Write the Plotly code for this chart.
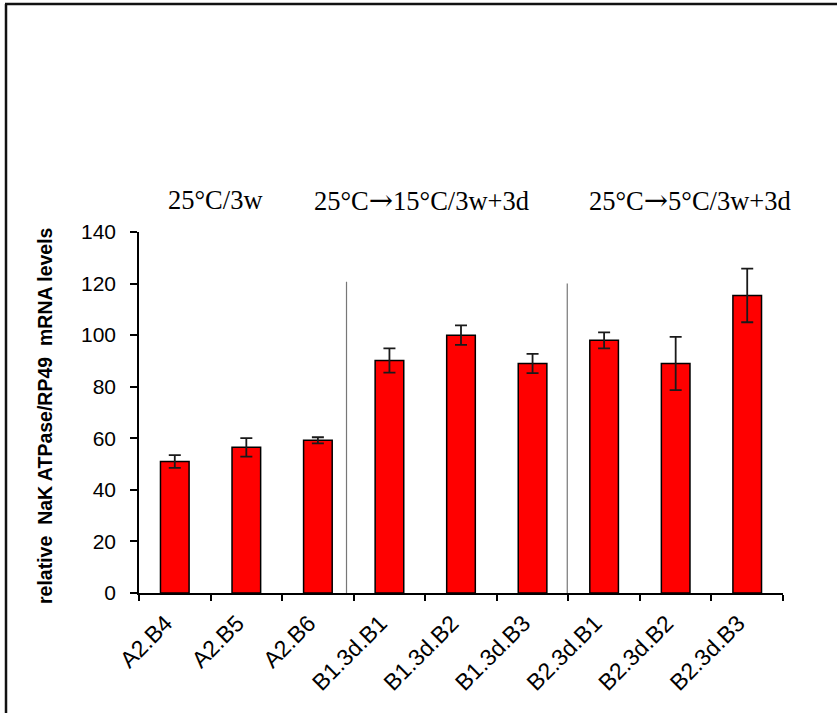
import plotly.graph_objects as go

# Samples and measured NaK ATPase / RP49 expression (mean, +/- error)
samples = ["A2.B4", "A2.B5", "A2.B6",
           "B1.3d.B1", "B1.3d.B2", "B1.3d.B3",
           "B2.3d.B1", "B2.3d.B2", "B2.3d.B3"]
levels = [51, 56.5, 59.2, 90.2, 100, 89, 98, 89, 115.4]
errors = [2.5, 3.6, 1.2, 4.7, 3.8, 3.7, 3.1, 10.3, 10.4]

ARROW = '<span style="font-family:DejaVu Serif;font-size:29px">\u2192</span>'
group_labels = ["25°C/3w",
                "25°C" + ARROW + "15°C/3w+3d",
                "25°C" + ARROW + "5°C/3w+3d"]
y_ticks = [0, 20, 40, 60, 80, 100, 120, 140]

W, H = 837, 715
L, R, T, B = 139, 54, 232, 122
PW, PH = W - L - R, H - T - B


def px_x(p):
    return (p - L) / PW


def px_y(p):
    return (H - B - p) / PH


fig = go.Figure()
fig.add_trace(go.Bar(
    x=samples, y=levels,
    width=0.4,
    marker=dict(color="#FF0000", line=dict(color="#000000", width=1.5)),
    error_y=dict(type="data", array=errors, symmetric=True,
                 color="#1a1a1a", thickness=1.8, width=6),
    showlegend=False,
))

# thin gray separators between the temperature groups
for xpos, ytop in [(2.40, 120.7), (5.485, 120.0)]:
    fig.add_shape(type="line", xref="x", yref="y",
                  x0=xpos, x1=xpos, y0=0, y1=ytop,
                  line=dict(color="#777777", width=1.2))

# group headers above the bars
for txt, xpos in zip(group_labels, [0.57, 3.45, 7.2]):
    fig.add_annotation(text=txt, xref="x", yref="paper", x=xpos, y=1.089,
                       showarrow=False, xanchor="center", yanchor="middle",
                       font=dict(family="Liberation Serif, Times New Roman, serif",
                                 size=26.5, color="#000000"))

# y-axis title
fig.add_annotation(text="relative\u00a0 NaK ATPase/RP49\u00a0 mRNA levels",
                   xref="paper", yref="paper", x=px_x(45), y=px_y(416),
                   textangle=-90, showarrow=False, xanchor="center", yanchor="middle",
                   font=dict(family="Liberation Sans, Arial, sans-serif",
                             size=19.5, color="#000000", weight="bold"))

# outer frame: only the top and left edges fall inside the page
fig.add_shape(type="line", xref="paper", yref="paper",
              x0=px_x(5), x1=px_x(840), y0=px_y(4), y1=px_y(4),
              line=dict(color="#111111", width=2.5), layer="above")
fig.add_shape(type="line", xref="paper", yref="paper",
              x0=px_x(6), x1=px_x(6), y0=px_y(4), y1=px_y(713),
              line=dict(color="#111111", width=2.5), layer="above")

fig.update_layout(
    width=W, height=H,
    margin=dict(l=L, r=R, t=T, b=B, pad=0, autoexpand=False),
    paper_bgcolor="white", plot_bgcolor="white",
    font=dict(family="Liberation Sans, Arial, sans-serif", size=20, color="#000000"),
    bargap=0.6,
)
fig.update_xaxes(
    type="category", range=[-0.5, len(samples) - 0.5],
    tickangle=-45, tickson="boundaries", automargin=False,
    ticks="outside", ticklen=6, tickcolor="#000000", tickwidth=1.5,
    showline=True, linecolor="#000000", linewidth=1.5,
    showgrid=False, zeroline=False,
    ticklabelstandoff=6, ticklabelshift=-9,
    tickfont=dict(size=23),
)
fig.update_yaxes(
    range=[0, 140], tickvals=y_ticks, automargin=False,
    ticks="outside", ticklen=7, tickcolor="#000000", tickwidth=1.5,
    showline=True, linecolor="#000000", linewidth=1.5,
    showgrid=False, zeroline=False, ticklabelstandoff=10,
    tickfont=dict(size=21),
)

fig.write_html("out.html")
